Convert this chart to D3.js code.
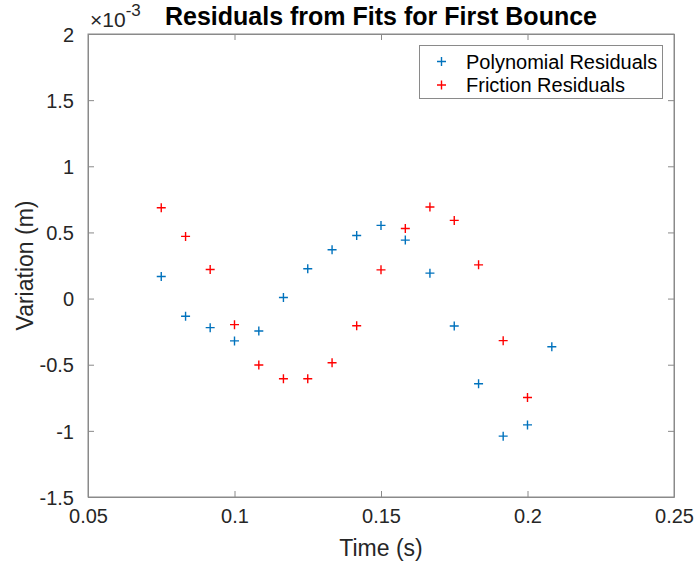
<!DOCTYPE html>
<html>
<head>
<meta charset="utf-8">
<script src="https://cdn.jsdelivr.net/npm/d3@7"></script>
<style>
  body { margin: 0; background: #fff; }
  svg text { font-family: "Liberation Sans", Arial, Helvetica, sans-serif; }
</style>
</head>
<body>
<svg id="chart"></svg>
<script>
// sample times (s)
var times = [0.0750, 0.0833, 0.0917, 0.1000, 0.1083, 0.1167, 0.1250, 0.1333, 0.1417,
             0.1500, 0.1583, 0.1667, 0.1750, 0.1833, 0.1917, 0.2000, 0.2083];

// residuals, in units of 1e-3 m
var polyResiduals = [0.167, -0.134, -0.220, -0.320, -0.245, 0.008, 0.225, 0.369, 0.477,
                     0.553, 0.442, 0.192, -0.207, -0.644, -1.040, -0.955, -0.364];
var frictionResiduals = [0.687, 0.470, 0.220, -0.197, -0.502, -0.606, -0.606, -0.485, -0.205,
                         0.217, 0.530, 0.692, 0.591, 0.255, -0.318, -0.748];

var xTicks = [0.05, 0.1, 0.15, 0.2, 0.25];
var yTicks = [-1.5, -1, -0.5, 0, 0.5, 1, 1.5, 2];

var seriesNames = ["Polynomial Residuals", "Friction Residuals"];
var seriesColors = ["#0072BD", "#FF0000"];

var w = 696, h = 563;
var margin = {left: 88, right: 22, top: 34, bottom: 66};

var svg = d3.select("#chart").attr("width", w).attr("height", h);

var x = d3.scaleLinear().domain([0.05, 0.25]).range([margin.left, w - margin.right]);
var y = d3.scaleLinear().domain([-1.5, 2]).range([h - margin.bottom, margin.top]);

var axisColor = "#8a8a8a";
var textColor = "#262626";

function fmt(d) { return String(d); }

// box
svg.append("rect")
    .attr("x", x(0.05)).attr("y", y(2))
    .attr("width", x(0.25) - x(0.05)).attr("height", y(-1.5) - y(2))
    .attr("fill", "none").attr("stroke", axisColor).attr("stroke-width", 1);

// axes with inward ticks
var xAxis = svg.append("g")
    .attr("transform", "translate(0," + y(-1.5) + ")")
    .call(d3.axisBottom(x).tickValues(xTicks).tickFormat(fmt).tickSizeInner(-6).tickSizeOuter(0).tickPadding(12));
var xTop = svg.append("g")
    .attr("transform", "translate(0," + y(2) + ")")
    .call(d3.axisTop(x).tickValues(xTicks).tickFormat("").tickSizeInner(-6).tickSizeOuter(0));
var yAxis = svg.append("g")
    .attr("transform", "translate(" + x(0.05) + ",0)")
    .call(d3.axisLeft(y).tickValues(yTicks).tickFormat(fmt).tickSizeInner(-6).tickSizeOuter(0).tickPadding(14));
var yRight = svg.append("g")
    .attr("transform", "translate(" + x(0.25) + ",0)")
    .call(d3.axisRight(y).tickValues(yTicks).tickFormat("").tickSizeInner(-6).tickSizeOuter(0));

[xAxis, xTop, yAxis, yRight].forEach(function(g) {
    g.select(".domain").attr("stroke", axisColor);
    g.selectAll(".tick line").attr("stroke", axisColor);
    g.selectAll("text").attr("fill", textColor).style("font-size", "20px");
});
xAxis.selectAll("text").attr("dy", "0.71em");
yAxis.selectAll("text").attr("dy", "0.36em");

// exponent label
var expo = svg.append("text")
    .attr("x", x(0.05) + 2).attr("y", 27)
    .attr("fill", textColor).style("font-size", "21px");
expo.append("tspan").text("\u00d710");
expo.append("tspan").attr("dy", -11).style("font-size", "17px").text("-3");

// title
svg.append("text")
    .attr("x", (x(0.05) + x(0.25)) / 2).attr("y", 25)
    .attr("text-anchor", "middle")
    .style("font-size", "25px").style("font-weight", "bold")
    .attr("fill", "#000")
    .text("Residuals from Fits for First Bounce");

// axis labels
svg.append("text")
    .attr("x", (x(0.05) + x(0.25)) / 2).attr("y", 556)
    .attr("text-anchor", "middle")
    .style("font-size", "23px").attr("fill", textColor)
    .text("Time (s)");

svg.append("text")
    .attr("transform", "translate(33," + (y(-1.5) + y(2)) / 2 + ") rotate(-90)")
    .attr("text-anchor", "middle")
    .style("font-size", "23px").attr("fill", textColor)
    .text("Variation (m)");

// plus markers
var plus = "M-4.5,0H4.5M0,-4.5V4.5";

function drawSeries(vals, color) {
    svg.append("g")
        .selectAll("path")
        .data(vals)
        .enter()
        .append("path")
        .attr("d", plus)
        .attr("transform", function(d, i) { return "translate(" + x(times[i]) + "," + y(d) + ")"; })
        .attr("stroke", color)
        .attr("stroke-width", 1.4)
        .attr("fill", "none");
}
drawSeries(polyResiduals, seriesColors[0]);
drawSeries(frictionResiduals, seriesColors[1]);

// legend
var legend = svg.append("g");
legend.append("rect")
    .attr("x", 419.5).attr("y", 45.5).attr("width", 243).attr("height", 53)
    .attr("fill", "#fff").attr("stroke", axisColor);
seriesNames.forEach(function(name, i) {
    var ly = 61.5 + i * 23.5;
    legend.append("path")
        .attr("d", plus)
        .attr("transform", "translate(441.5," + ly + ")")
        .attr("stroke", seriesColors[i]).attr("stroke-width", 1.4);
    legend.append("text")
        .attr("x", 466).attr("y", ly).attr("dy", "0.36em")
        .style("font-size", "20px").attr("fill", "#000")
        .text(name);
});
</script>
</body>
</html>
